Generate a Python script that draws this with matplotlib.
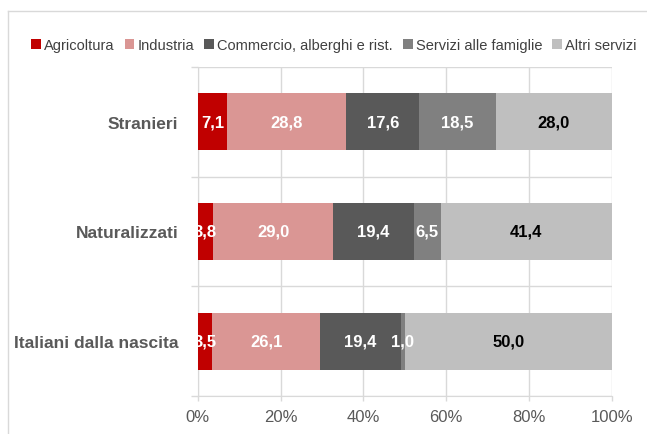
import matplotlib
matplotlib.use("Agg")
import matplotlib.pyplot as plt
from matplotlib.ticker import FixedLocator, FuncFormatter

categories = ["Stranieri", "Naturalizzati", "Italiani dalla nascita"]
sectors = ["Agricoltura", "Industria", "Commercio, alberghi e rist.",
           "Servizi alle famiglie", "Altri servizi"]
agricoltura = [7.1, 3.8, 3.5]
industria = [28.8, 29.0, 26.1]
commercio = [17.6, 19.4, 19.4]
servizi_famiglie = [18.5, 6.5, 1.0]
altri_servizi = [28.0, 41.4, 50.0]
x_ticks = [0, 20, 40, 60, 80, 100]

colors = ["#C00000", "#DA9694", "#595959", "#808080", "#BFBFBF"]
label_colors = ["white", "white", "white", "white", "black"]

plt.rcParams["font.family"] = ["Liberation Sans", "DejaVu Sans"]

grid_col = "#D9D9D9"
text_col = "#595959"

fig = plt.figure(figsize=(6.47, 4.35), dpi=100)
ax = fig.add_axes([0.3056, 0.0874, 0.9454 - 0.3056, 0.8437 - 0.0874])

series = [agricoltura, industria, commercio, servizi_famiglie, altri_servizi]
ypos = list(range(len(categories)))
left = [0.0] * len(categories)
for name, vals, col, lcol in zip(sectors, series, colors, label_colors):
    bars = ax.barh(ypos, vals, left=left, height=0.52, color=col, label=name, zorder=3)
    for b, v in zip(bars, vals):
        cx = b.get_x() + b.get_width() / 2
        ax.text(cx, b.get_y() + b.get_height() / 2, f"{v:.1f}".replace(".", ","),
                ha="center", va="center", color=lcol, fontsize=12,
                fontweight="bold", zorder=4)
    left = [l + v for l, v in zip(left, vals)]

ax.set_xlim(0, 100)
ax.set_ylim(2.5, -0.5)
ax.xaxis.set_major_locator(FixedLocator(x_ticks))
ax.xaxis.set_major_formatter(FuncFormatter(lambda v, p: f"{v:.0f}%"))
ax.set_yticks(ypos)
ax.set_yticklabels(categories, fontsize=12.5, fontweight="bold", color=text_col)
ax.yaxis.set_minor_locator(FixedLocator([-0.5, 0.5, 1.5, 2.5]))
ax.tick_params(axis="y", which="major", length=0, pad=14)
ax.tick_params(axis="y", which="minor", length=5, color=grid_col, width=1)
ax.tick_params(axis="x", length=3.6, color=grid_col, width=1, labelsize=12,
               labelcolor=text_col, pad=6)
ax.grid(axis="x", which="major", color=grid_col, linewidth=1, zorder=0)
ax.grid(axis="y", which="minor", color=grid_col, linewidth=1, zorder=0)
for s in ["top", "right"]:
    ax.spines[s].set_visible(False)
ax.spines["left"].set_color(grid_col)
ax.spines["bottom"].set_color(grid_col)

leg = fig.legend(loc="center", bbox_to_anchor=(0.516, 0.895), ncol=5, frameon=False,
                 fontsize=10.5, handlelength=0.68, handleheight=0.68, handletextpad=0.2,
                 columnspacing=0.7, labelcolor="#404040", borderaxespad=0)

# chart border
fig.add_artist(plt.Line2D([8 / 647, 8 / 647], [0, 1 - 12 / 435], color=grid_col,
                          linewidth=1, transform=fig.transFigure))
fig.add_artist(plt.Line2D([8 / 647, 1], [1 - 12 / 435, 1 - 12 / 435], color=grid_col,
                          linewidth=1, transform=fig.transFigure))

fig.savefig("out.png", dpi=100)
